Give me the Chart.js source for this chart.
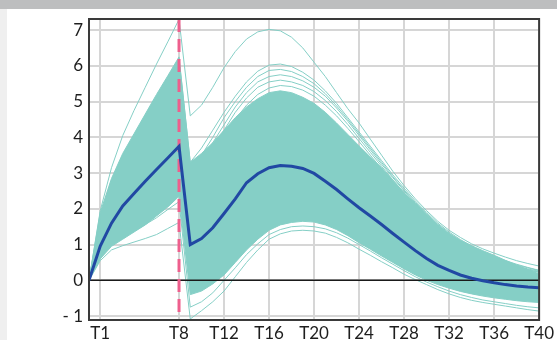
<!DOCTYPE html>
<html><head><meta charset="utf-8">
<script src="https://cdn.jsdelivr.net/npm/chart.js@4.4.1/dist/chart.umd.min.js"></script>
<style>
html,body{margin:0;padding:0;background:#fff;}
#wrap{position:relative;width:557px;height:340px;overflow:hidden;background:#fff;}
#topband{position:absolute;left:0;top:0;width:557px;height:9px;background:#bdbebf;}
#leftband{position:absolute;left:0;top:9px;width:7px;height:331px;background:#efefef;}
canvas{position:absolute;left:0;top:0;}
</style></head>
<body><div id="wrap"><div id="topband"></div><div id="leftband"></div><canvas id="c" width="557" height="340"></canvas></div>
<script>
const timePoints = [0,1,2,3,4,5,6,7,8,9,10,11,12,13,14,15,16,17,18,19,20,21,22,23,24,25,26,27,28,29,30,31,32,33,34,35,36,37,38,39,40];
const xTickValues = [1,8,12,16,20,24,28,32,36,40];
const yTickValues = [-1,0,1,2,3,4,5,6,7];
const doseTime = 8;

const meanResponse = [0,0.96,1.6,2.08,2.43,2.77,3.1,3.42,3.75,
  1.0,1.17,1.47,1.87,2.28,2.73,2.98,3.15,3.21,3.19,
  3.13,2.99,2.77,2.54,2.28,2.03,1.80,1.56,1.31,1.07,
  0.83,0.61,0.42,0.28,0.15,0.06,-0.01,-0.07,-0.12,-0.16,
  -0.19,-0.21];

const bandUpper = [0,1.9,2.85,3.55,4.1,4.65,5.2,5.72,6.25,
  3.3,3.55,3.85,4.2,4.55,4.85,5.08,5.25,5.3,5.25,
  5.12,4.95,4.7,4.4,4.08,3.76,3.45,3.15,2.8,2.45,
  2.15,1.85,1.55,1.3,1.12,0.97,0.83,0.7,0.56,0.43,
  0.3,0.18];

const bandLower = [0,0.6,0.95,1.15,1.35,1.55,1.8,2.05,2.35,
  -0.4,-0.3,-0.1,0.15,0.5,0.85,1.15,1.4,1.55,1.62,
  1.65,1.63,1.55,1.42,1.25,1.05,0.87,0.68,0.5,0.32,
  0.15,0.0,-0.12,-0.22,-0.31,-0.38,-0.44,-0.49,-0.53,-0.57,
  -0.6,-0.62];

const subjectTop = [0,1.95,3.15,4.05,4.75,5.4,6.05,6.67,7.3,
  4.6,4.9,5.4,5.95,6.4,6.75,6.95,7.02,6.98,6.8,
  6.5,6.1,5.7,5.25,4.8,4.4,3.95,3.5,3.05,2.65,
  2.28,1.95,1.65,1.4,1.2,1.02,0.88,0.76,0.65,0.55,
  0.47,0.4];

const subjectHigh1 = [0,1.8,2.8,3.5,4.05,4.6,5.15,5.65,6.2,
  3.3,3.7,4.2,4.7,5.15,5.55,5.85,6.02,6.05,5.98,
  5.82,5.6,5.3,4.95,4.55,4.15,3.75,3.35,2.95,2.58,
  2.22,1.9,1.6,1.35,1.14,0.96,0.8,0.67,0.55,0.45,
  0.36,0.28];

const subjectHigh4 = [0,1.7,2.65,3.3,3.85,4.35,4.85,5.35,5.85,
  3.1,3.5,4.0,4.55,5.0,5.4,5.7,5.87,5.9,5.84,
  5.7,5.5,5.22,4.88,4.5,4.1,3.7,3.3,2.9,2.53,
  2.18,1.86,1.57,1.32,1.11,0.93,0.78,0.65,0.53,0.43,
  0.35,0.27];

const subjectHigh2 = [0,1.6,2.5,3.1,3.6,4.1,4.55,5.0,5.5,
  2.9,3.3,3.85,4.35,4.85,5.25,5.55,5.7,5.75,5.7,
  5.58,5.4,5.15,4.82,4.45,4.05,3.65,3.25,2.87,2.5,
  2.15,1.82,1.53,1.28,1.07,0.9,0.75,0.62,0.5,0.4,
  0.32,0.25];

const subjectHigh5 = [0,1.5,2.35,2.95,3.4,3.85,4.3,4.7,5.15,
  2.75,3.15,3.7,4.2,4.7,5.1,5.4,5.55,5.6,5.55,
  5.45,5.28,5.03,4.72,4.36,3.97,3.58,3.19,2.81,2.45,
  2.11,1.79,1.5,1.25,1.04,0.87,0.72,0.59,0.48,0.38,
  0.3,0.23];

const subjectHigh3 = [0,1.4,2.2,2.75,3.2,3.6,4.0,4.4,4.8,
  2.6,3.0,3.5,4.0,4.5,4.9,5.2,5.38,5.45,5.42,
  5.32,5.15,4.9,4.6,4.25,3.88,3.5,3.12,2.75,2.4,
  2.07,1.76,1.48,1.23,1.02,0.85,0.7,0.57,0.46,0.37,
  0.29,0.22];

const subjectLow1 = [0,0.55,0.85,0.97,1.07,1.17,1.28,1.45,1.62,
  -1.08,-0.85,-0.6,-0.3,0.1,0.5,0.85,1.15,1.3,1.38,
  1.4,1.38,1.32,1.2,1.05,0.87,0.7,0.52,0.35,0.17,
  0.02,-0.12,-0.26,-0.38,-0.48,-0.56,-0.62,-0.67,-0.72,-0.77,
  -0.82,-0.86];

const subjectLow2 = [0,0.62,1.0,1.2,1.38,1.56,1.75,1.98,2.2,
  -0.75,-0.6,-0.35,0.0,0.35,0.72,1.02,1.28,1.42,1.5,
  1.52,1.5,1.44,1.33,1.18,1.0,0.82,0.63,0.45,0.27,
  0.1,-0.05,-0.18,-0.3,-0.4,-0.48,-0.55,-0.6,-0.65,-0.7,
  -0.74,-0.77];

const TEAL = '#85cfc6';
const BLUE = '#2148a3';
const PINK = '#ee5f8d';

const toPoints = arr => arr.map((v, i) => ({x: timePoints[i], y: v}));
const subjects = [subjectTop, subjectHigh1, subjectHigh4, subjectHigh2, subjectHigh5, subjectHigh3, subjectLow1, subjectLow2];

const datasets = [
  {data: toPoints(meanResponse), borderColor: BLUE, borderWidth: 3, pointRadius: 0, tension: 0, fill: false},
  ...subjects.map(a => ({data: toPoints(a), borderColor: TEAL, borderWidth: 1, pointRadius: 0, tension: 0, fill: false})),
  {data: toPoints(bandUpper), borderColor: TEAL, borderWidth: 1, backgroundColor: TEAL, fill: '+1', pointRadius: 0, tension: 0},
  {data: toPoints(bandLower), borderColor: TEAL, borderWidth: 1, pointRadius: 0, tension: 0, fill: false}
];

const overlay = {
  id: 'overlay',
  beforeDatasetDraw(chart, args) {
    if (args.index !== 0) return;
    const {ctx, chartArea: a, scales: {x, y}} = chart;
    ctx.save();
    ctx.beginPath(); ctx.rect(a.left, a.top, a.right - a.left, a.bottom - a.top); ctx.clip();
    const y0 = y.getPixelForValue(0);
    ctx.strokeStyle = '#1a1a1a'; ctx.lineWidth = 1.5;
    ctx.beginPath(); ctx.moveTo(a.left, y0); ctx.lineTo(a.right, y0); ctx.stroke();
    const xd = x.getPixelForValue(doseTime);
    ctx.strokeStyle = PINK; ctx.lineWidth = 3; ctx.setLineDash([13, 7]);
    ctx.beginPath(); ctx.moveTo(xd, a.top); ctx.lineTo(xd, a.bottom); ctx.stroke();
    ctx.restore();
  },
  afterDatasetsDraw(chart) {
    const {ctx, chartArea: a} = chart;
    ctx.save();
    ctx.strokeStyle = '#3a3a3a'; ctx.lineWidth = 2;
    ctx.strokeRect(a.left, a.top, a.right - a.left, a.bottom - a.top);
    ctx.restore();
  }
};

const tickFont = {family: 'Lato', size: 17};

new Chart(document.getElementById('c'), {
  type: 'line',
  data: {datasets},
  plugins: [overlay],
  options: {
    responsive: false, animation: false, devicePixelRatio: 1,
    layout: {padding: {top: 19, right: 15, left: 0, bottom: 0}},
    plugins: {legend: {display: false}, tooltip: {enabled: false}},
    scales: {
      x: {
        type: 'linear', min: 0, max: 40,
        afterBuildTicks: s => { s.ticks = xTickValues.map(v => ({value: v})); },
        afterFit: s => { s.height = 20; },
        grid: {color: '#d6d6d6', lineWidth: 2, drawTicks: false},
        border: {display: false},
        ticks: {padding: 3, autoSkip: false, maxRotation: 0, font: tickFont, color: '#1e1e1e', callback: v => 'T' + v}
      },
      y: {
        type: 'linear', min: -1.11, max: 7.31,
        afterBuildTicks: s => { s.ticks = yTickValues.map(v => ({value: v})); },
        afterFit: s => { s.width = 89; },
        grid: {color: '#d6d6d6', lineWidth: 2, drawTicks: false},
        border: {display: false},
        ticks: {padding: 6, font: tickFont, color: '#1e1e1e', callback: v => v < 0 ? '- ' + Math.abs(v) : String(v)}
      }
    }
  }
});
</script>
</body></html>
